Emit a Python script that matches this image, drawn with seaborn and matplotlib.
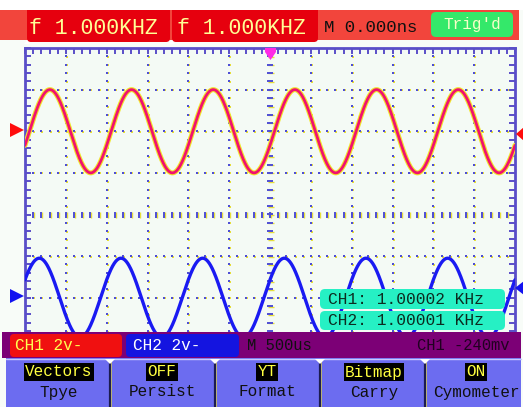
import numpy as np
import pandas as pd
import matplotlib
matplotlib.use("Agg")
import matplotlib.pyplot as plt
import matplotlib.transforms as mtransforms
from matplotlib.patches import Rectangle, FancyBboxPatch, Polygon
from matplotlib.ticker import MultipleLocator
import seaborn as sns

channels = ["CH1", "CH2"]
freq_khz = [1.00002, 1.00001]          # cymometer readout
offset_div = [2.0, -2.0]               # trace baseline (divisions)
amplitude_div = [1.0, 0.95]            # crest height (divisions)
first_crest_div = [-5.39, -5.65]       # horizontal position of first crest (divisions)
time_per_div_us = 500
header_freq = ["f 1.000KHZ", "f 1.000KHZ"]
trigger_delay = "M 0.000ns"
trigger_state = "Trig'd"
ch_scale = ["CH1 2v-", "CH2 2v-"]
timebase_label = "M 500us"
trigger_level = "CH1 -240mv"
cymo_text = ["CH1: 1.00002 KHz", "CH2: 1.00001 KHz"]
menu_values = ["Vectors", "OFF", "YT", "Bitmap", "ON"]
menu_names = ["Tpye", "Persist", "Format", "Carry", "Cymometer"]

# ---------------- build traces ----------------
t_div = np.linspace(-6, 6, 1500)
t_us = t_div * time_per_div_us
rows = []
for ch, f, off, amp, c0 in zip(channels, freq_khz, offset_div, amplitude_div, first_crest_div):
    t0 = c0 * time_per_div_us
    v = off + amp * np.cos(2 * np.pi * f * (t_us - t0) / 1000.0)
    rows.append(pd.DataFrame({"t": t_div, "v": v, "channel": ch}))
df = pd.concat(rows, ignore_index=True)

# ---------------- figure ----------------
sns.set_style("white")
plt.rcParams["font.family"] = ["Liberation Mono", "DejaVu Sans Mono"]
W, H = 523, 407
fig = plt.figure(figsize=(W / 100, H / 100), dpi=100, facecolor="#f8fcf8")

BG = "#f4faf5"
AXC = "#5a4ec8"
BLUE_DOT = "#4e4ed4"
YEL_DOT = "#e6de3a"

L, R, T, B = 25, 515, 48, 381
ax = fig.add_axes([L / W, (H - B) / H, (R - L) / W, (B - T) / H], zorder=1)
ax.set_facecolor(BG)
ax.set_xlim(-6, 6)
ax.set_ylim(-4, 4)
for s in ["left", "top", "right"]:
    ax.spines[s].set_color(AXC)
    ax.spines[s].set_linewidth(2)
ax.spines["bottom"].set_visible(False)
ax.xaxis.set_major_locator(MultipleLocator(0.2))
ax.yaxis.set_major_locator(MultipleLocator(0.2))
ax.tick_params(which="both", direction="in", left=True, right=True, top=True,
               bottom=False, labelleft=False, labelbottom=False,
               length=4.5, width=1.4, color=AXC)

off1 = mtransforms.offset_copy(ax.transData, fig=fig, x=1, y=-0.5, units="dots")

# dotted grid
ys = np.arange(-3.8, 3.81, 0.2)
xs = np.arange(-5.8, 5.81, 0.2)
for gx in [-5, -4, -3, -2, -1, 1, 2, 3, 4, 5]:
    ax.plot(np.full_like(ys, gx), ys, ls="none", marker="s", ms=1.6, mew=0,
            color=YEL_DOT, transform=off1, zorder=1)
    ax.plot(np.full_like(ys, gx), ys, ls="none", marker="s", ms=1.6, mew=0,
            color=BLUE_DOT, zorder=1.1)
for gy in [-3, -2, -1, 1, 2, 3]:
    ax.plot(xs, np.full_like(xs, gy), ls="none", marker="s", ms=1.6, mew=0,
            color=YEL_DOT, transform=off1, zorder=1)
    ax.plot(xs, np.full_like(xs, gy), ls="none", marker="s", ms=1.6, mew=0,
            color=BLUE_DOT, zorder=1.1)
# centre lines with tick dashes
ax.plot(np.zeros_like(ys), ys, ls="none", marker="_", ms=3.8, mew=1.0,
        color=YEL_DOT, transform=off1, zorder=1)
ax.plot(np.zeros_like(ys), ys, ls="none", marker="_", ms=3.8, mew=1.4,
        color=BLUE_DOT, zorder=1.1)
ax.plot(xs, np.zeros_like(xs), ls="none", marker="|", ms=3.8, mew=1.0,
        color=YEL_DOT, transform=off1, zorder=1)
ax.plot(xs, np.zeros_like(xs), ls="none", marker="|", ms=3.8, mew=1.4,
        color=BLUE_DOT, zorder=1.1)

# traces
d1 = df[df.channel == "CH1"]
d2 = df[df.channel == "CH2"]
sns.lineplot(data=d1, x="t", y="v", ax=ax, color="#f0e62a", lw=3.6,
             estimator=None, sort=False, legend=False, zorder=3)
sns.lineplot(data=d1, x="t", y="v", ax=ax, color="#f0126e", lw=2.0,
             estimator=None, sort=False, legend=False, zorder=4)
sns.lineplot(data=d2, x="t", y="v", ax=ax, color="#1a1af2", lw=2.4,
             estimator=None, sort=False, legend=False, zorder=4)
ax.set_xlabel("")
ax.set_ylabel("")

# ---------------- UI overlay ----------------
ui = fig.add_axes([0, 0, 1, 1], zorder=10)
ui.set_xlim(0, W)
ui.set_ylim(H, 0)
ui.axis("off")
ui.patch.set_alpha(0)

def rbox(x0, y0, x1, y1, color, r=4, z=2):
    p = FancyBboxPatch((x0 + r, y0 + r), (x1 - x0) - 2 * r, (y1 - y0) - 2 * r,
                       boxstyle=f"round,pad={r}", fc=color, ec="none", zorder=z)
    ui.add_patch(p)

# top bar
ui.add_patch(Rectangle((0, 10), 519, 30, fc="#f2453c", ec="none", zorder=1))
rbox(27, 2, 170, 42, "#e6000e", r=4)
rbox(172, 2, 318, 42, "#e6000e", r=4)
ui.add_patch(Rectangle((0, 0), W, 10, fc="#ffffff", ec="none", zorder=3))
rbox(431, 12, 513, 37, "#34e86a", r=5, z=4)
ui.text(29, 28, header_freq[0], color="#ffff96", fontsize=15.5, va="center", ha="left", zorder=5)
ui.text(177, 28, header_freq[1], color="#ffff96", fontsize=15.5, va="center", ha="left", zorder=5)
ui.text(324, 27, trigger_delay, color="#101010", fontsize=12.5, va="center", ha="left", zorder=5)
ui.text(472, 25, trigger_state, color="#f8ffc8", fontsize=11.5, va="center", ha="center", zorder=5)
for sx in [27, 172]:
    ui.add_patch(Polygon([(sx - 3, 44), (sx + 3, 44), (sx, 40)], fc="#ffffff", ec="none", zorder=5))

# trigger position marker
ui.add_patch(Polygon([(265, 48), (276, 48), (276, 52), (270.5, 60), (265, 52)],
                     fc="#ff2ae6", ec="none", zorder=6))

# channel level markers
ui.add_patch(Polygon([(10, 123), (24, 130), (10, 137)], fc="#ff0c0c", ec="none", zorder=6))
ui.add_patch(Polygon([(10, 289), (24, 296), (10, 303)], fc="#1212f0", ec="none", zorder=6))
ui.add_patch(Polygon([(524, 127), (516, 134), (524, 141)], fc="#ff0c0c", ec="none", zorder=6))
ui.add_patch(Polygon([(524, 281), (515, 288), (524, 295)], fc="#1212f0", ec="none", zorder=6))

# cymometer boxes
rbox(320, 289, 505, 309, "#26f0c4", r=5, z=6)
rbox(320, 311, 505, 330, "#26f0c4", r=5, z=6)
ui.text(328, 299.5, cymo_text[0], color="#0c2c20", fontsize=11.7, va="center", ha="left", zorder=7)
ui.text(328, 320.5, cymo_text[1], color="#0c2c20", fontsize=11.7, va="center", ha="left", zorder=7)

# status bar
ui.add_patch(Rectangle((2, 332), 519, 26, fc="#7c0076", ec="none", zorder=6))
rbox(10, 334, 122, 357, "#f01010", r=4, z=7)
rbox(126, 334, 239, 357, "#1414e0", r=4, z=7)
ui.text(15, 346, ch_scale[0], color="#ffff50", fontsize=11.5, va="center", ha="left", zorder=8)
ui.text(133, 346, ch_scale[1], color="#ffffff", fontsize=11.5, va="center", ha="left", zorder=8)
ui.text(247, 346, timebase_label, color="#101010", fontsize=11.2, va="center", ha="left", zorder=8)
ui.text(417, 346, trigger_level, color="#200020", fontsize=11.2, va="center", ha="left", zorder=8)

# menu buttons
ui.add_patch(Rectangle((6, 358), 515, 49, fc="#6c6cf0", ec="none", zorder=6))
ui.plot([6, 521], [359, 359], color="#c8c8ff", lw=1, zorder=7)
for sx in [110, 215, 320, 425]:
    ui.plot([sx, sx], [361, 407], color="#1c1c50", lw=1.6, zorder=7)
    ui.plot([sx + 1.3, sx + 1.3], [361, 407], color="#c8c060", lw=0.6, zorder=7)
    ui.add_patch(Polygon([(sx - 5, 359), (sx + 5, 359), (sx, 364)], fc="#ffffff", ec="none", zorder=8))
centers = [59, 162, 267, 374, 476]
for cx, val, name in zip(centers, menu_values, menu_names):
    ui.text(cx, 372, val, color="#ffff40", fontsize=11.5, va="center", ha="center", zorder=9,
            bbox=dict(boxstyle="square,pad=0.08", fc="#000000", ec="none"))
    ui.text(cx, 392, name, color="#101010", fontsize=11.5, va="center", ha="center", zorder=9)

fig.savefig("out.png", dpi=100, facecolor=fig.get_facecolor())
